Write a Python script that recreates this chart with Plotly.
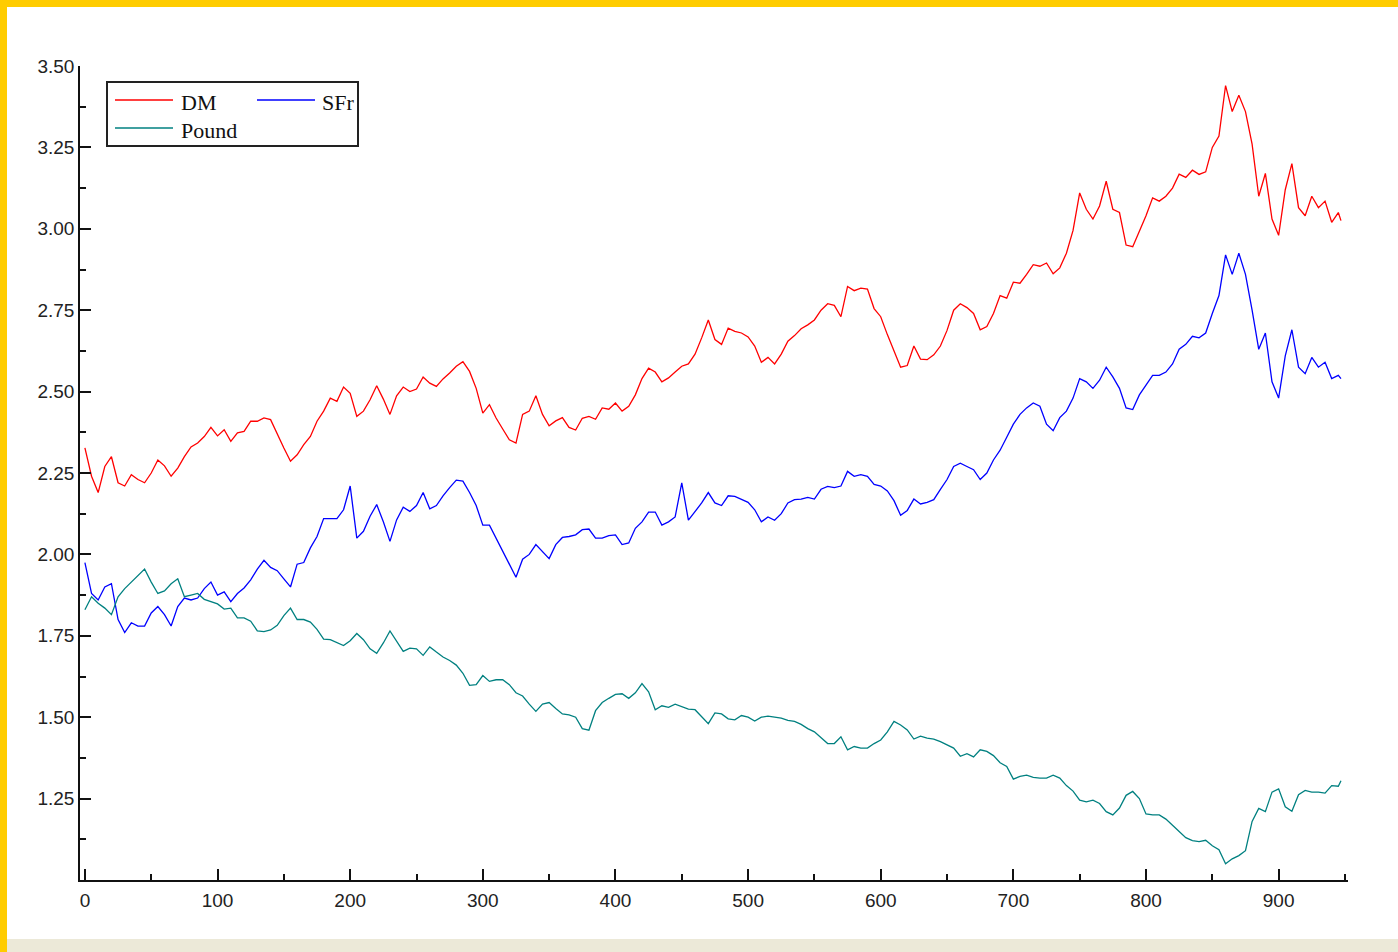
import plotly.graph_objects as go

# Observation index (every 5th day, plus the final one)
day = list(range(0, 946, 5)) + [947]

dm = [
    2.327, 2.24, 2.19, 2.27, 2.30, 2.22, 2.21, 2.245, 2.23, 2.22,
    2.25, 2.29, 2.272, 2.24, 2.265, 2.30, 2.33, 2.342, 2.362, 2.39,
    2.364, 2.383, 2.347, 2.373, 2.378, 2.409, 2.409, 2.419, 2.414, 2.368,
    2.327, 2.286, 2.306, 2.337, 2.362, 2.409, 2.44, 2.48, 2.47, 2.514,
    2.495, 2.424, 2.44, 2.475, 2.518, 2.477, 2.43, 2.487, 2.514, 2.50,
    2.508, 2.545, 2.526, 2.516, 2.539, 2.557, 2.578, 2.592, 2.562, 2.51,
    2.434, 2.46, 2.419, 2.385, 2.352, 2.342,
    2.43, 2.44, 2.487, 2.43, 2.395, 2.41, 2.42, 2.39, 2.382, 2.418,
    2.424, 2.415, 2.45, 2.446, 2.465, 2.44, 2.455, 2.49, 2.54, 2.572,
    2.56, 2.53, 2.542, 2.56, 2.578, 2.585, 2.615, 2.665, 2.72, 2.66,
    2.645, 2.695, 2.685, 2.68, 2.668, 2.64, 2.59, 2.605, 2.585, 2.615,
    2.655, 2.672, 2.693, 2.705, 2.72, 2.75, 2.77, 2.765, 2.73, 2.823,
    2.81, 2.818, 2.815, 2.755, 2.73, 2.675, 2.625, 2.575, 2.58, 2.64,
    2.60, 2.598, 2.613,
    2.64, 2.688, 2.75, 2.77, 2.758, 2.74, 2.69, 2.70, 2.74, 2.795,
    2.787, 2.836, 2.833, 2.86, 2.89, 2.885, 2.895, 2.862, 2.88, 2.925,
    2.995, 3.11, 3.06, 3.03, 3.07, 3.146, 3.06, 3.05, 2.95, 2.945,
    2.99, 3.04, 3.095, 3.085, 3.10, 3.125, 3.168, 3.158, 3.18, 3.167,
    3.175, 3.25, 3.285, 3.44, 3.36, 3.41, 3.36, 3.26, 3.10, 3.17,
    3.03, 2.98, 3.12, 3.20, 3.065, 3.04, 3.10, 3.065, 3.085, 3.02,
    3.05, 3.025,
]

sfr = [
    1.975, 1.88, 1.86, 1.90, 1.91, 1.80, 1.76, 1.79, 1.78, 1.78,
    1.82, 1.84, 1.815, 1.78, 1.84, 1.866, 1.86, 1.866, 1.895, 1.915,
    1.875, 1.885, 1.855, 1.88, 1.897, 1.922, 1.955, 1.982, 1.96, 1.95,
    1.925, 1.90, 1.97, 1.975, 2.02, 2.055, 2.11, 2.11, 2.11, 2.137,
    2.21, 2.05, 2.071, 2.117, 2.153, 2.10, 2.04, 2.106, 2.145, 2.132,
    2.15, 2.19, 2.14, 2.15, 2.18, 2.205, 2.228, 2.225, 2.19, 2.15,
    2.09, 2.09, 2.05, 2.01, 1.965, 1.93,
    1.985, 2.00, 2.03, 2.01, 1.987, 2.03, 2.052, 2.055, 2.06, 2.076,
    2.078, 2.05, 2.05, 2.058, 2.06, 2.03, 2.035, 2.08, 2.10, 2.13,
    2.13, 2.09, 2.10, 2.115, 2.22, 2.105, 2.13, 2.158, 2.19, 2.158,
    2.15, 2.18, 2.178, 2.168, 2.16, 2.137, 2.10, 2.115, 2.105, 2.125,
    2.158, 2.168, 2.17, 2.175, 2.17, 2.20, 2.209, 2.205, 2.21, 2.255,
    2.24, 2.245, 2.24, 2.215, 2.21, 2.195, 2.165, 2.12, 2.135, 2.17,
    2.155, 2.16, 2.168,
    2.20, 2.23, 2.27, 2.28, 2.27, 2.26, 2.23, 2.25, 2.29, 2.32,
    2.36, 2.40, 2.43, 2.45, 2.465, 2.455, 2.40, 2.38, 2.42, 2.44,
    2.48, 2.54, 2.53, 2.51, 2.535, 2.575, 2.545, 2.51, 2.45, 2.445,
    2.49, 2.52, 2.55, 2.55, 2.56, 2.585, 2.63, 2.645, 2.67, 2.665,
    2.68, 2.74, 2.795, 2.92, 2.86, 2.925, 2.86, 2.75, 2.63, 2.68,
    2.53, 2.48, 2.61, 2.69, 2.575, 2.555, 2.605, 2.575, 2.59, 2.54,
    2.55, 2.54,
]

pound = [
    1.83, 1.87, 1.85, 1.835, 1.815, 1.87, 1.895, 1.915, 1.935, 1.955,
    1.915, 1.88, 1.888, 1.91, 1.925, 1.87, 1.875, 1.88, 1.862, 1.855,
    1.848, 1.832, 1.835, 1.805, 1.805, 1.795, 1.765, 1.763, 1.768, 1.782,
    1.812, 1.835, 1.80, 1.80, 1.792, 1.77, 1.74, 1.738, 1.728, 1.72,
    1.735, 1.757, 1.738, 1.71, 1.696, 1.728, 1.765, 1.735, 1.702, 1.712,
    1.71, 1.69, 1.716, 1.70, 1.685, 1.674, 1.66, 1.635, 1.598, 1.60,
    1.628, 1.61, 1.615, 1.615, 1.60, 1.575,
    1.565, 1.54, 1.518, 1.54, 1.545, 1.527, 1.51, 1.507, 1.50, 1.465,
    1.46, 1.52, 1.545, 1.558, 1.57, 1.572, 1.558, 1.575, 1.603, 1.578,
    1.523, 1.535, 1.53, 1.54, 1.533, 1.525, 1.523, 1.502, 1.48, 1.513,
    1.51, 1.495, 1.492, 1.505, 1.50, 1.488, 1.50, 1.503, 1.50, 1.497,
    1.49, 1.487, 1.478, 1.465, 1.455, 1.438, 1.419, 1.419, 1.44, 1.40,
    1.41, 1.405, 1.405, 1.419, 1.43, 1.455, 1.487, 1.476, 1.461, 1.433,
    1.442, 1.436, 1.433,
    1.425, 1.415, 1.405, 1.38, 1.388, 1.378, 1.40, 1.395, 1.382, 1.36,
    1.349, 1.31, 1.318, 1.322, 1.315, 1.313, 1.313, 1.322, 1.313, 1.29,
    1.273, 1.245, 1.24, 1.245, 1.235, 1.21, 1.20, 1.221, 1.26, 1.272,
    1.25, 1.203, 1.20, 1.20, 1.187, 1.168, 1.15, 1.13, 1.121, 1.118,
    1.122, 1.105, 1.093, 1.05, 1.065, 1.075, 1.09, 1.18, 1.22, 1.21,
    1.27, 1.28, 1.225, 1.211, 1.262, 1.275, 1.27, 1.27, 1.267, 1.29,
    1.288, 1.305,
]

series_names = ["DM", "SFr", "Pound"]
series_colors = ["#ff0000", "#0000ff", "#008080"]
x_ticks = [0, 100, 200, 300, 400, 500, 600, 700, 800, 900]
y_ticks = [1.25, 1.50, 1.75, 2.00, 2.25, 2.50, 2.75, 3.00, 3.25, 3.50]

assert len(dm) == len(sfr) == len(pound) == len(day)

W, H = 1398, 952
ML, MR, MT, MB = 80, 50, 66, 72
PW, PH = W - ML - MR, H - MT - MB


def px(xp):
    return (xp - ML) / PW


def py(yp):
    return (H - MB - yp) / PH


fig = go.Figure()
for name, vals, col in zip(series_names, [dm, sfr, pound], series_colors):
    fig.add_trace(go.Scatter(x=day, y=vals, mode="lines", name=name,
                             line=dict(color=col, width=1.3),
                             showlegend=False))

shapes = [
    # window frame: gold strips top and left, beige strip at the bottom
    dict(type="rect", xref="paper", yref="paper", x0=px(0), x1=px(W),
         y0=py(0), y1=py(7), fillcolor="#ffcc00", line_width=0, layer="below"),
    dict(type="rect", xref="paper", yref="paper", x0=px(0), x1=px(7),
         y0=py(0), y1=py(H), fillcolor="#ffcc00", line_width=0, layer="below"),
    dict(type="rect", xref="paper", yref="paper", x0=px(7), x1=px(W),
         y0=py(939), y1=py(H), fillcolor="#ece9d8", line_width=0, layer="below"),
    # legend frame
    dict(type="rect", xref="paper", yref="paper", x0=px(107), x1=px(358),
         y0=py(82), y1=py(146), fillcolor="white",
         line=dict(color="#222222", width=2)),
]

# legend entries: (line start x, line y, text x)
legend_pos = [(115, 100, 179), (257, 100, 320), (115, 128, 179)]
annotations = []
for (lx, ly, tx), name, col in zip(legend_pos, series_names, series_colors):
    shapes.append(dict(type="line", xref="paper", yref="paper",
                       x0=px(lx), x1=px(lx + 58), y0=py(ly), y1=py(ly),
                       line=dict(color=col, width=1.3)))
    annotations.append(dict(xref="paper", yref="paper", x=px(tx), y=py(ly + 2),
                            text=name, showarrow=False, xanchor="left",
                            yanchor="middle",
                            font=dict(family="Liberation Serif", size=22,
                                      color="#111111")))

axis_common = dict(showline=True, linecolor="#111111", linewidth=1.5,
                   ticks="inside", ticklen=11, tickwidth=1.5,
                   tickcolor="#111111", showgrid=False, zeroline=False,
                   mirror=False,
                   tickfont=dict(family="Liberation Sans", size=19,
                                 color="#222222"))

fig.update_layout(
    width=W, height=H,
    margin=dict(l=ML, r=MR, t=MT, b=MB, pad=0),
    paper_bgcolor="white", plot_bgcolor="white",
    shapes=shapes, annotations=annotations,
    xaxis=dict(range=[-3.7, 952.3], tickvals=x_ticks,
               minor=dict(ticks="inside", ticklen=6, dtick=50, tick0=0,
                          tickwidth=1.5, tickcolor="#111111"),
               ticklabelstandoff=2, **axis_common),
    yaxis=dict(range=[1.0, 3.5], tickvals=y_ticks, tickformat=".2f",
               minor=dict(ticks="inside", ticklen=6, dtick=0.125, tick0=1.0,
                          tickwidth=1.5, tickcolor="#111111"),
               ticklabelstandoff=0, **axis_common),
    hovermode=False,
)

fig.write_html("out.html")
